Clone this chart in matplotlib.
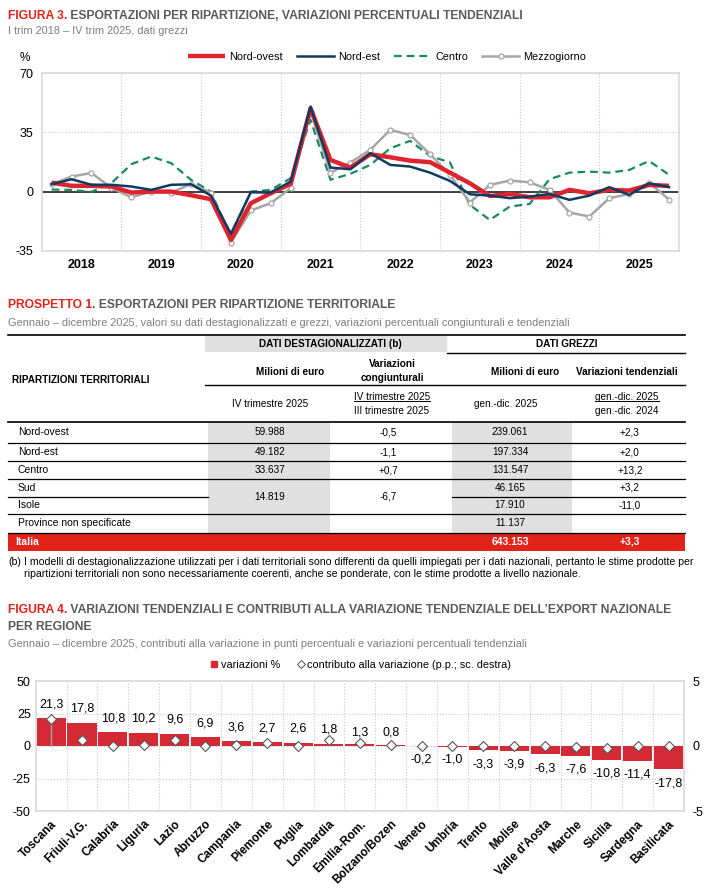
import matplotlib
matplotlib.use('Agg')
import matplotlib.pyplot as plt
from matplotlib import font_manager
from matplotlib.lines import Line2D
import numpy as np

W, H = 710, 891

# ---- Figura 3: variazioni percentuali tendenziali per trimestre
anni = ['2018', '2019', '2020', '2021', '2022', '2023', '2024', '2025']
nord_ovest = [5.3, 3.4, 3.4, 3.0, -0.6, 0.0, 0.0, -2.2,
              -4.5, -28.6, -6.9, -1.0, 4.5, 49.3, 18.7, 14.2,
              22.1, 20.3, 18.3, 17.4, 11.2, 4.9, -2.6, -1.4,
              -3.4, -3.4, 1.0, -1.0, 1.0, 0.6, 3.9, 3.4]
nord_est = [4.3, 7.3, 4.0, 4.0, 3.0, 1.0, 4.0, 4.3,
            -2.4, -25.0, -0.4, -0.6, 5.9, 50.3, 14.2, 13.2,
            22.7, 15.8, 14.8, 11.2, 6.3, -1.6, -2.4, -3.9,
            -3.0, -1.4, -4.9, -2.4, 2.6, -2.0, 4.9, 2.6]
centro = [1.2, 1.0, -0.2, 5.0, 16.2, 20.7, 16.8, 6.9,
          0.0, -27.0, 0.0, 1.0, 7.9, 42.4, 7.0, 10.5,
          15.8, 25.6, 30.0, 21.1, 17.2, -7.9, -16.8, -8.9,
          -7.3, 7.3, 11.2, 11.8, 11.2, 12.8, 18.1, 9.9]
mezzogiorno = [4.3, 8.9, 11.0, 2.2, -3.4, 0.0, -0.6, 4.5,
               -0.6, -30.2, -11.2, -6.9, 2.0, 47.3, 11.2, 17.2,
               24.7, 36.5, 33.5, 22.1, 9.9, -6.5, 3.9, 6.5,
               5.5, 1.0, -12.4, -14.8, -3.9, -1.4, 5.3, -4.7]

# ---- Prospetto 1
ripartizioni = ['Nord-ovest', 'Nord-est', 'Centro', 'Sud', 'Isole', 'Province non specificate']
destag_milioni = ['59.988', '49.182', '33.637', '14.819', '']
destag_cong = ['-0,5', '-1,1', '+0,7', '-6,7', '']
grezzi_milioni = ['239.061', '197.334', '131.547', '46.165', '17.910', '11.137']
grezzi_tend = ['+2,3', '+2,0', '+13,2', '+3,2', '-11,0', '']
italia_milioni = '643.153'
italia_tend = '+3,3'

# ---- Figura 4
regioni = ['Toscana', 'Friuli-V.G.', 'Calabria', 'Liguria', 'Lazio', 'Abruzzo',
           'Campania', 'Piemonte', 'Puglia', 'Lombardia', 'Emilia-Rom.',
           'Bolzano/Bozen', 'Veneto', 'Umbria', 'Trento', 'Molise',
           "Valle d'Aosta", 'Marche', 'Sicilia', 'Sardegna', 'Basilicata']
variazioni = [21.3, 17.8, 10.8, 10.2, 9.6, 6.9, 3.6, 2.7, 2.6, 1.8, 1.3,
              0.8, -0.2, -1.0, -3.3, -3.9, -6.3, -7.6, -10.8, -11.4, -17.8]
contributi = [2.1, 0.44, 0.0, 0.05, 0.44, 0.0, 0.1, 0.2, 0.02, 0.46, 0.2,
              0.08, 0.0, 0.0, 0.0, 0.0, 0.0, -0.06, -0.12, 0.0, 0.0]

# fonts: narrow if available
names = {f.name for f in font_manager.fontManager.ttflist}
FONT = 'Liberation Sans Narrow' if 'Liberation Sans Narrow' in names else 'Liberation Sans'
plt.rcParams['font.family'] = [FONT, 'DejaVu Sans']

RED = '#e2231a'
GREY_T = '#5a5a5a'
GREY_S = '#7f7f7f'
GRID = '#c8c8c8'
FRAME = '#d9d9d9'
TS = 8.7      # title size
SS = 7.9      # subtitle size
BS = 7.2      # table body size


def box(l, t, r, b):
    return [l / W, 1 - b / H, (r - l) / W, (b - t) / H]


fig = plt.figure(figsize=(W / 100, H / 100), dpi=100)
fig.patch.set_facecolor('white')

# overlay axes in pixel units for titles and table
ov = fig.add_axes([0, 0, 1, 1])
ov.set_xlim(0, W)
ov.set_ylim(H, 0)
ov.axis('off')


def title(y, red, rest, size=TS):
    t1 = ov.text(8, y, red, color=RED, fontsize=size, fontweight='bold', va='center')
    ov.annotate(rest, xy=(1, 0.5), xycoords=t1, color=GREY_T, fontsize=size,
                fontweight='bold', va='center', ha='left')


title(16, 'FIGURA 3.', ' ESPORTAZIONI PER RIPARTIZIONE, VARIAZIONI PERCENTUALI TENDENZIALI')
ov.text(8, 31, 'I trim 2018 \u2013 IV trim 2025, dati grezzi', color=GREY_S, fontsize=SS, va='center')

# ---------------- Figura 3 line chart
ax1 = fig.add_axes(box(41.7, 73.3, 679, 250.7))
x = np.arange(len(nord_ovest))
ax1.plot(x, nord_ovest, color='#e0242f', lw=3.2, label='Nord-ovest', zorder=4, solid_capstyle='butt')
ax1.plot(x, nord_est, color='#123a5e', lw=1.8, label='Nord-est', zorder=5)
ax1.plot(x, centro, color='#1a8a5c', lw=1.6, ls=(0, (3.5, 2.2)), label='Centro', zorder=3)
ax1.plot(x, mezzogiorno, color='#a6a6a6', lw=1.8, marker='o', ms=3.6, mfc='white',
         mec='#a6a6a6', mew=0.9, label='Mezzogiorno', zorder=3)
ax1.axhline(0, color='#222222', lw=1.2, zorder=2)
ax1.set_xlim(-0.5, len(x) - 0.5)
ax1.set_ylim(-35, 70)
ax1.set_yticks([70, 35, 0, -35])
ax1.set_yticklabels(['70', '35', '0', '-35'], fontsize=9)
ax1.set_xticks(np.arange(len(anni)) * 4 + 1.5)
ax1.set_xticklabels(anni, fontsize=9, fontweight='bold')
ax1.set_xticks(np.arange(1, len(anni)) * 4 - 0.5, minor=True)
ax1.tick_params(which='both', length=0, pad=6)
ax1.grid(True, which='minor', axis='x', color=GRID, ls=':', lw=0.8)
ax1.grid(True, which='major', axis='y', color=GRID, ls=':', lw=0.8)
for s in ax1.spines.values():
    s.set_color(FRAME)
    s.set_linewidth(1.2)
ov.text(25, 58, '%', fontsize=8.5, ha='center', va='center')
fig.legend(loc='center', bbox_to_anchor=(387 / W, 1 - 57 / H), ncol=4, frameon=False,
           fontsize=7.8, handlelength=3.4, columnspacing=1.3, handletextpad=0.4)

# ---------------- Prospetto 1 table
title(305, 'PROSPETTO 1', '. ESPORTAZIONI PER RIPARTIZIONE TERRITORIALE')
ov.text(8, 323, 'Gennaio \u2013 dicembre 2025, valori su dati destagionalizzati e grezzi, '
        'variazioni percentuali congiunturali e tendenziali', color=GREY_S, fontsize=SS, va='center')

TL, TR = 8, 685
GREY_F = '#e0e0e0'
c_dm, c_dc, c_gm, c_gt = 270, 388, 510, 630
dm_l, dm_r = 208, 330
gm_l, gm_r = 452, 572
row_edges = [421.7, 443, 461.3, 479.3, 496.5, 514, 532.7]
it_top, it_bot = 532.7, 551

# header
ov.add_patch(plt.Rectangle((205, 335), 447 - 205, 352 - 335, color=GREY_F, lw=0))
ov.plot([TL, TR], [334.5, 334.5], color='black', lw=1.2)
ov.plot([447, TR], [353, 353], color='black', lw=1.0)
ov.plot([205, TR], [384.5, 384.5], color='black', lw=1.0)
hdr = dict(fontsize=BS, fontweight='bold', ha='center', va='center')
ov.text(330, 344, 'DATI DESTAGIONALIZZATI (b)', **hdr)
ov.text(567, 344, 'DATI GREZZI', **hdr)
ov.text(290, 372, 'Milioni di euro', **hdr)
ov.text(392, 371, 'Variazioni\ncongiunturali', linespacing=1.4, **hdr)
ov.text(525, 372, 'Milioni di euro', **hdr)
ov.text(627, 372, 'Variazioni tendenziali', **hdr)
ov.text(12, 380, 'RIPARTIZIONI TERRITORIALI', fontsize=BS, fontweight='bold', va='center')
sub = dict(fontsize=BS, ha='center', va='center')
ov.text(270, 404, 'IV trimestre 2025', **sub)
u1 = ov.text(392, 396.5, 'IV trimestre 2025', **sub)
ov.text(392, 411, 'III trimestre 2025', **sub)
ov.text(506, 404, 'gen.-dic. 2025', **sub)
u2 = ov.text(627, 396.5, 'gen.-dic. 2025', **sub)
ov.text(627, 411, 'gen.-dic. 2024', **sub)

# grey data columns
ov.add_patch(plt.Rectangle((dm_l, row_edges[0]), dm_r - dm_l, it_top - row_edges[0], color=GREY_F, lw=0))
ov.add_patch(plt.Rectangle((gm_l, row_edges[0]), gm_r - gm_l, it_top - row_edges[0], color=GREY_F, lw=0))
ov.plot([TL, TR], [row_edges[0], row_edges[0]], color='black', lw=1.2)
for i, yy in enumerate(row_edges[1:]):
    if i == 3:   # Sud / Isole share the destagionalizzati cell
        ov.plot([TL, dm_l], [yy, yy], color='black', lw=0.9)
        ov.plot([gm_l, TR], [yy, yy], color='black', lw=0.9)
    else:
        ov.plot([TL, TR], [yy, yy], color='black', lw=0.9)

cell = dict(fontsize=BS, ha='center', va='center')
for i, name in enumerate(ripartizioni):
    ym = (row_edges[i] + row_edges[i + 1]) / 2 if i + 1 < len(row_edges) else (row_edges[i] + it_top) / 2
    ov.text(18, ym, name, fontsize=BS + 0.3, va='center')
    ov.text(c_gm, ym, grezzi_milioni[i], **cell)
    ov.text(c_gt, ym, grezzi_tend[i], **cell)
for i in range(3):
    ym = (row_edges[i] + row_edges[i + 1]) / 2
    ov.text(c_dm, ym, destag_milioni[i], **cell)
    ov.text(c_dc, ym, destag_cong[i], **cell)
ov.text(c_dm, row_edges[4], destag_milioni[3], **cell)
ov.text(c_dc, row_edges[4], destag_cong[3], **cell)

ov.add_patch(plt.Rectangle((TL, it_top), TR - TL, it_bot - it_top, color=RED, lw=0))
ym = (it_top + it_bot) / 2
it = dict(fontsize=BS + 0.3, fontweight='bold', color='white', va='center')
ov.text(15, ym, 'Italia', **it)
ov.text(c_gm, ym, italia_milioni, ha='center', **it)
ov.text(c_gt, ym, italia_tend, ha='center', **it)

ov.text(8, 562, '(b)', fontsize=7.6, va='center')
ov.text(24, 562, 'I modelli di destagionalizzazione utilizzati per i dati territoriali sono differenti '
        'da quelli impiegati per i dati nazionali, pertanto le stime prodotte per', fontsize=7.6, va='center')
ov.text(24, 574, 'ripartizioni territoriali non sono necessariamente coerenti, anche se ponderate, '
        'con le stime prodotte a livello nazionale.', fontsize=7.6, va='center')

# ---------------- Figura 4
title(610, 'FIGURA 4.', ' VARIAZIONI TENDENZIALI E CONTRIBUTI ALLA VARIAZIONE TENDENZIALE DELL\u2019EXPORT NAZIONALE')
ov.text(8, 627, 'PER REGIONE', color=GREY_T, fontsize=TS, fontweight='bold', va='center')
ov.text(8, 644, 'Gennaio \u2013 dicembre 2025, contributi alla variazione in punti percentuali '
        'e variazioni percentuali tendenziali', color=GREY_S, fontsize=SS, va='center')

ax3 = fig.add_axes(box(35.7, 681, 684, 811))
xb = np.arange(len(regioni))
ax3.bar(xb, variazioni, width=0.94, color='#d42a35', zorder=3)
ax3.set_xlim(-0.5, len(regioni) - 0.5)
ax3.set_ylim(-50, 50)
ax3.set_yticks([50, 25, 0, -25, -50])
ax3.set_yticklabels(['50', '25', '0', '-25', '-50'], fontsize=9)
ax3.set_xticks(xb)
ax3.set_xticklabels(regioni, rotation=45, ha='right', rotation_mode='anchor',
                    fontsize=8.5, fontweight='bold')
ax3.set_xticks(xb[:-1] + 0.5, minor=True)
ax3.tick_params(which='both', length=0)
ax3.tick_params(axis='x', pad=5)
ax3.grid(True, which='minor', axis='x', color=GRID, ls=':', lw=0.8)
ax3.grid(True, which='major', axis='y', color=GRID, ls=':', lw=0.8)
for s in ax3.spines.values():
    s.set_color(FRAME)
    s.set_linewidth(1.2)
for xi, v in zip(xb, variazioni):
    lab = f'{v:.1f}'.replace('.', ',')
    ax3.annotate(lab, (xi, v if abs(v) > 1.5 else 0), xytext=(0, 10 if v >= 0 else -10),
                 textcoords='offset points', ha='center', va='center', fontsize=9, zorder=6)

ax4 = ax3.twinx()
ax4.set_ylim(-5, 5)
ax4.set_yticks([5, 0, -5])
ax4.set_yticklabels(['5', '0', '-5'], fontsize=9)
ax4.tick_params(length=0, pad=6)
for s in ax4.spines.values():
    s.set_visible(False)
ax4.vlines(xb[0], 0, contributi[0], color='#a0a0a0', lw=1.0, zorder=3)
ax4.plot(xb, contributi, ls='none', marker='D', ms=5.5, mfc='white', mec='#555555',
         mew=0.8, zorder=5)

leg_h = [Line2D([], [], ls='none', marker='s', ms=4.5, color='#d42a35'),
         Line2D([], [], ls='none', marker='D', ms=4.5, mfc='white', mec='#555555', mew=0.7)]
fig.legend(leg_h, ['variazioni %', 'contributo alla variazione (p.p.; sc. destra)'],
           loc='center', bbox_to_anchor=(361 / W, 1 - 665 / H), ncol=2, frameon=False,
           fontsize=7.8, handlelength=0.6, handletextpad=0.3, columnspacing=1.6)

# underline the upper label of the two ratio headers
fig.canvas.draw()
r = fig.canvas.get_renderer()
inv = ov.transData.inverted()
for t in (u1, u2):
    bb = t.get_window_extent(r)
    (x0, y0), (x1, y1) = inv.transform([[bb.x0, bb.y0], [bb.x1, bb.y1]])
    ov.plot([x0, x1], [y0 - 0.5, y0 - 0.5], color='black', lw=0.7)

fig.savefig('out.png', dpi=100)
